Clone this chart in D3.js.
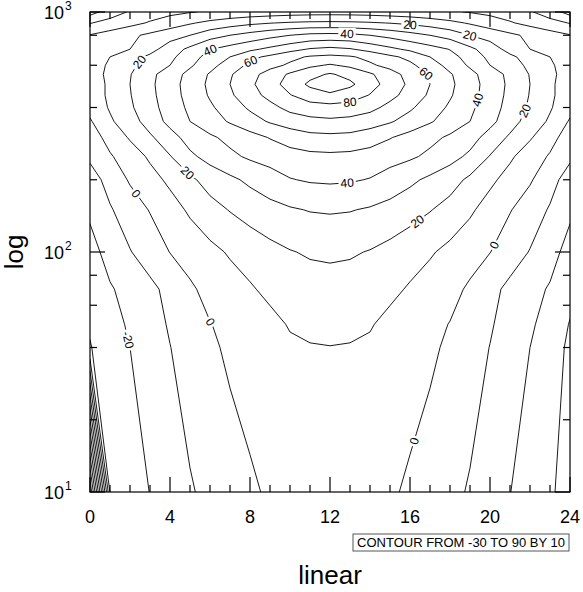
<!DOCTYPE html>
<html><head><meta charset="utf-8">
<script src="https://cdn.jsdelivr.net/npm/d3@7"></script>
<style>body{margin:0;background:#fff}</style>
</head><body>
<svg id="c" width="583" height="592"></svg>
<script>
// ---------------- data ----------------
const xValues = [0,1,2,3,4,5,6,7,8,9,10,11,12,13,14,15,16,17,18,19,20,21,22,23,24];
const yLevels = [10,40,50,70,100,150,200,250,300,350,400,450,500,550,600,650,700,800,900,1000];
const row10   = [-150,-29,-24.5,-19.8,-14.5,-10.8,-7.8,-4.6,-1.5,1.3,3.2,4.2,4.5,4.2,3.2,1.3,-1.5,-4.6,-7.8,-10.8,-14.5,-19.8,-24.5,-29,-33];
const row40   = [-30.5,-25,-20,-15,-10.2,-6,-1.8,1.8,4.3,6.7,8.6,9.5,9.8,9.5,8.6,6.7,4.3,1.8,-1.8,-6,-10.2,-15,-20,-25,-32];
const row50   = [-29,-24,-18.5,-14,-9,-4.5,-0.3,2.5,5,7.5,10.7,12,12.5,12,10.7,7.5,5,2.5,-0.3,-4.5,-9,-14,-18.5,-24,-30.5];
const row70   = [-27,-21,-16.5,-12.5,-7,-1.5,3,6,9,12.2,14.5,16,16.5,16,14.5,12.2,9,6,3,-1.5,-7,-12.5,-16.5,-21,-27];
const row100  = [-24,-16,-10.5,-5,0.2,4,7.5,11,14,17,19.5,21,21.5,21,19.5,17,14,11,7.5,4,0.2,-5,-10.5,-16,-24];
const row150  = [-18,-11,-4.5,0.5,6,11.5,16.5,20.5,24,27,29,30.5,31,30.5,29,27,24,20.5,16.5,11.5,6,0.5,-4.5,-11,-18];
const row200  = [-15,-6,1,6.5,12,18,24,28,32,35.5,39.5,41,41.5,41,39.5,35.5,32,28,24,18,12,6.5,1,-6,-15];
const row250  = [-8,-1,5,11.5,19.5,28,33.5,38,41.5,44,46,47.5,48,47.5,46,44,41.5,38,33.5,28,19.5,11.5,5,-1,-8];
const row300  = [-5,3.5,11,18.5,26,34,38.5,42.5,46.5,50.5,54.5,57,57.5,57,54.5,50.5,46.5,42.5,38.5,34,26,18.5,11,3.5,-5];
const row350  = [-1,8.5,16,24,33,40,45.5,51,56,61,64.5,67,68,67,64.5,61,56,51,45.5,40,33,24,16,8.5,-1];
const row400  = [3,11,18.5,26.5,34.5,42,48.5,55,61.5,67,73,76,77,76,73,67,61.5,55,48.5,42,34.5,26.5,18.5,11,3];
const row450  = [4,12,19.5,27.5,35.5,43.5,51,58.5,66,73,79.5,85,87,85,79.5,73,66,58.5,51,43.5,35.5,27.5,19.5,12,4];
const row500  = [4,12,20,28,36,44,52,60,68,76,84,92,100,92,84,76,68,60,52,44,36,28,20,12,4];
const row550  = [5,12.5,19.5,27.5,35,43,51,59,66.5,74,81.5,87,91,87,81.5,74,66.5,59,51,43,35,27.5,19.5,12.5,5];
const row600  = [5,11.5,18,24,30,38.5,46.5,55,62,67,71.5,78,81,78,71.5,67,62,55,46.5,38.5,30,24,18,11.5,5];
const row650  = [5,10,16,22,27.5,36,43.5,50,57.5,62,67.5,71,72.3,71,67.5,62,57.5,50,43.5,36,27.5,22,16,10,5];
const row700  = [3,6,10,16.5,25,32.2,39.6,43.8,48,52.2,56.5,60.8,62.5,60.8,56.5,52.2,48,43.8,39.6,32.2,25,16.5,10,6,3];
const row800  = [0.5,4,8,12,16,20,26,30,33.5,37,40,42.5,43,42.5,40,37,33.5,30,26,20,16,12,8,4,0.5];
const row900  = [-10.5,-6.5,-3,1,5,9,12.5,15.5,18,19.7,21,21.8,22,21.8,21,19.7,18,15.5,12.5,9,5,1,-3,-6.5,-10.5];
const row1000 = [-24,-15,-9,-5,-2.5,-0.5,1,2.3,3.5,4.5,5.3,5.8,6,5.8,5.3,4.5,3.5,2.3,1,-0.5,-2.5,-5,-9,-15,-24];
const zRows = [row10,row40,row50,row70,row100,row150,row200,row250,row300,row350,row400,row450,row500,row550,row600,row650,row700,row800,row900,row1000];
const contourLevels = [-150,-140,-130,-120,-110,-100,-90,-80,-70,-60,-50,-40,-30,-20,-10,0,10,20,30,40,50,60,70,80,90];
const xTicks = [0,4,8,12,16,20,24];
const xMinorTicks = [1,2,3,5,6,7,9,10,11,13,14,15,17,18,19,21,22,23];
const yTicks = [10,100,1000];
const yTickExp = ["1","2","3"];
const yMinorTicks = [20,40,60,80,200,400,600,800];
// label anchors (level, x, y in data units)
const labelSpots = [
  {level:20,x:2.35,y:631},{level:40,x:6.0,y:695},{level:60,x:8.0,y:631},
  {level:40,x:12.85,y:818},{level:20,x:16.0,y:891},{level:20,x:19.0,y:802},
  {level:60,x:16.75,y:546},{level:80,x:13.0,y:418},{level:40,x:19.4,y:430},
  {level:20,x:21.65,y:391},{level:20,x:4.85,y:213},{level:0,x:2.35,y:176},
  {level:40,x:12.85,y:200},{level:20,x:16.4,y:133},{level:0,x:20.0,y:109},
  {level:-20,x:1.9,y:43},{level:0,x:6.0,y:51},{level:0,x:16.0,y:16.5}
];
const infoText = "CONTOUR FROM -30 TO 90 BY 10";
const xTitle = "linear", yTitle = "log";

// ---------------- drawing ----------------
const svg = d3.select('#c');
svg.append('rect').attr('width',583).attr('height',592).attr('fill','#fff');
const L=90,R=570,T=12,B=492;
const xScale = d3.scaleLinear().domain([0,24]).range([L,R]);
const yScale = d3.scaleLog().domain([10,1000]).range([B,T]);

function interpIdx(arr, scale, i){
  const n = arr.length;
  if (i < 0) return scale(arr[0]) + (scale(arr[0]) - scale(arr[1])) * (-i);
  if (i > n-1) return scale(arr[n-1]) + (scale(arr[n-1]) - scale(arr[n-2])) * (i-(n-1));
  const k = Math.min(Math.floor(i), n-2), t = i - k;
  return scale(arr[k])*(1-t) + scale(arr[k+1])*t;
}
const nx = xValues.length, ny = yLevels.length;
const flat = [];
zRows.forEach(r => r.forEach(v => flat.push(v)));
const contours = d3.contours().size([nx, ny]).thresholds(contourLevels)(flat);
const toPx = p => [interpIdx(xValues, xScale, p[0]-0.5), interpIdx(yLevels, yScale, p[1]-0.5)];

const defs = svg.append('defs');
defs.append('clipPath').attr('id','clip').append('rect').attr('x',L).attr('y',T).attr('width',R-L).attr('height',B-T);

const lineG = svg.append('g').attr('clip-path','url(#clip)');
const ringsByLevel = new Map();
contours.forEach(c => {
  const rings = [];
  c.coordinates.forEach(poly => poly.forEach(ring => {
    const pts = ring.map(toPx);
    rings.push(pts);
    lineG.append('path')
      .attr('d', 'M' + pts.map(p => p[0].toFixed(2)+','+p[1].toFixed(2)).join('L') + 'Z')
      .attr('fill','none').attr('stroke','#000').attr('stroke-width',0.9);
  }));
  ringsByLevel.set(c.value, rings);
});

// contour labels
const labG = svg.append('g');
labelSpots.forEach(s => {
  const rings = ringsByLevel.get(s.level) || [];
  const tx = xScale(s.x), ty = yScale(s.y);
  let best = null, bd = Infinity;
  rings.forEach(pts => {
    for (let i=0;i<pts.length-1;i++){
      const a=pts[i], b=pts[i+1];
      const dx=b[0]-a[0], dy=b[1]-a[1], l2=dx*dx+dy*dy;
      if (l2 === 0) continue;
      let t=((tx-a[0])*dx+(ty-a[1])*dy)/l2; t=Math.max(0,Math.min(1,t));
      const px=a[0]+t*dx, py=a[1]+t*dy;
      if (px<L+2||px>R-2||py<T+2||py>B-2) continue;
      const d=(px-tx)**2+(py-ty)**2;
      if (d<bd){bd=d; best={x:px,y:py,ang:Math.atan2(dy,dx)*180/Math.PI};}
    }
  });
  if (!best) return;
  let ang = best.ang;
  while (ang > 90) ang -= 180;
  while (ang <= -90) ang += 180;
  const g = labG.append('g').attr('transform',`translate(${best.x},${best.y}) rotate(${ang})`);
  const rect = g.append('rect').attr('fill','#fff');
  const t = g.append('text').text(String(s.level))
    .attr('text-anchor','middle').attr('dy','0.36em')
    .attr('font-family','Liberation Sans, Arial, Helvetica, sans-serif').attr('font-size',12).attr('fill','#000');
  const w = t.node().getComputedTextLength();
  rect.attr('x',-w/2-2).attr('y',-6).attr('width',w+4).attr('height',12);
});

// frame & ticks
const axG = svg.append('g').attr('stroke','#000').attr('stroke-width',1.2);
axG.append('rect').attr('x',L).attr('y',T).attr('width',R-L).attr('height',B-T).attr('fill','none');
const MAJ=15, MIN=7;
xTicks.forEach(v => {
  const x = xScale(v);
  axG.append('line').attr('x1',x).attr('x2',x).attr('y1',B).attr('y2',B-MAJ);
  axG.append('line').attr('x1',x).attr('x2',x).attr('y1',T).attr('y2',T+MAJ);
});
xMinorTicks.forEach(v => {
  const x = xScale(v);
  axG.append('line').attr('x1',x).attr('x2',x).attr('y1',B).attr('y2',B-MIN);
  axG.append('line').attr('x1',x).attr('x2',x).attr('y1',T).attr('y2',T+MIN);
});
yTicks.forEach(v => {
  const y = yScale(v);
  axG.append('line').attr('x1',L).attr('x2',L+MAJ).attr('y1',y).attr('y2',y);
  axG.append('line').attr('x1',R).attr('x2',R-MAJ).attr('y1',y).attr('y2',y);
});
yMinorTicks.forEach(v => {
  const y = yScale(v);
  axG.append('line').attr('x1',L).attr('x2',L+MIN).attr('y1',y).attr('y2',y);
  axG.append('line').attr('x1',R).attr('x2',R-MIN).attr('y1',y).attr('y2',y);
});

const FONT = 'Liberation Sans, Arial, Helvetica, sans-serif';
// x tick labels
xTicks.forEach(v => {
  svg.append('text').text(v).attr('x',xScale(v)).attr('y',523)
    .attr('text-anchor','middle').attr('font-family',FONT).attr('font-size',18);
});
// y tick labels
yTicks.forEach((v,i) => {
  const y = yScale(v);
  svg.append('text').text('10').attr('x',64).attr('y',y+7)
    .attr('text-anchor','end').attr('font-family',FONT).attr('font-size',18);
  svg.append('text').text(yTickExp[i]).attr('x',65).attr('y',y-2)
    .attr('text-anchor','start').attr('font-family',FONT).attr('font-size',12);
});
// titles
svg.append('text').text(xTitle).attr('x',330).attr('y',584)
  .attr('text-anchor','middle').attr('font-family',FONT).attr('font-size',26);
svg.append('text').text(yTitle).attr('transform','translate(23,252) rotate(-90)')
  .attr('text-anchor','middle').attr('font-family',FONT).attr('font-size',26);
// info label
svg.append('rect').attr('x',353).attr('y',534).attr('width',216).attr('height',17)
  .attr('fill','#fff').attr('stroke','#555').attr('stroke-width',1);
svg.append('text').text(infoText).attr('x',461).attr('y',547)
  .attr('text-anchor','middle').attr('font-family',FONT).attr('font-size',13);
</script>
</body></html>
